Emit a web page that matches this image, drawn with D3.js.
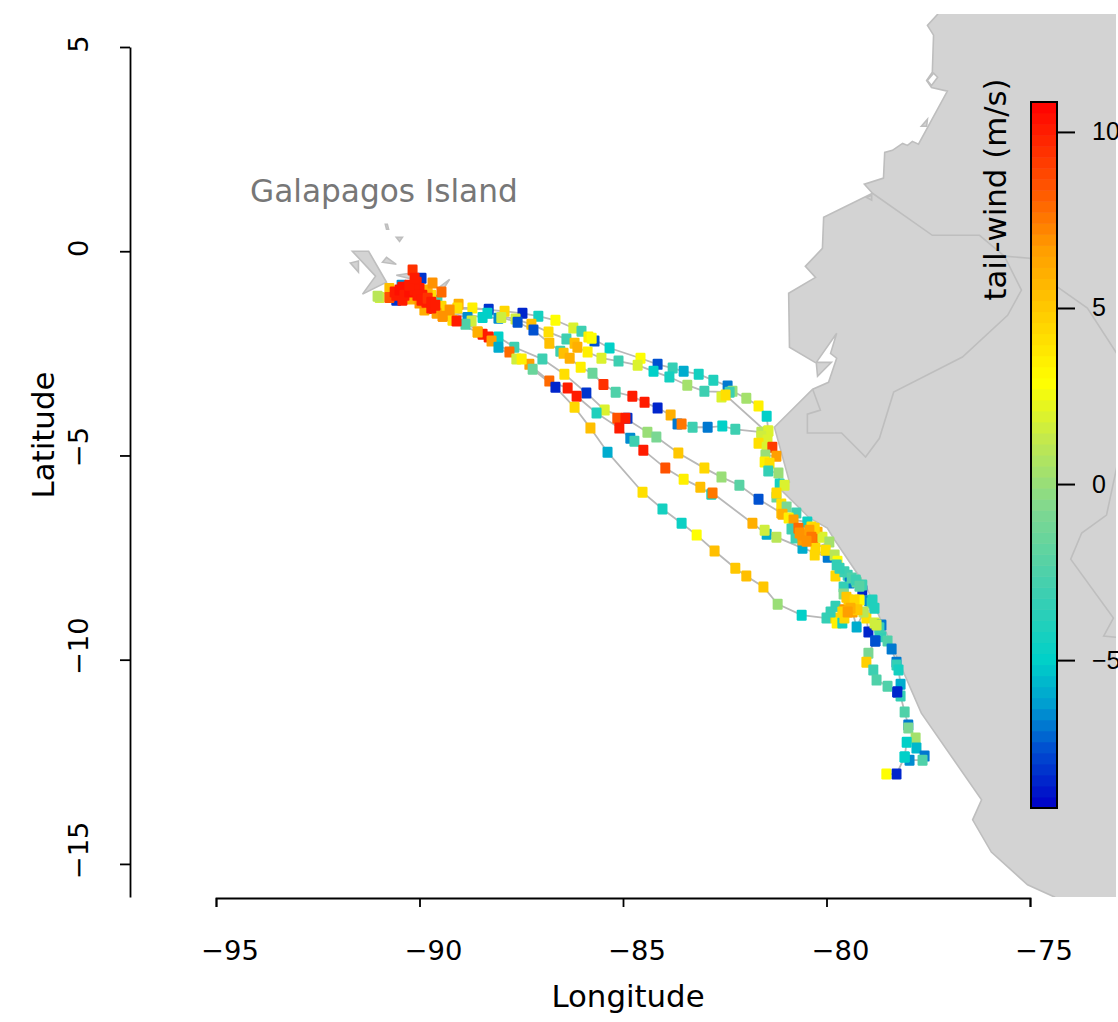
<!DOCTYPE html>
<html><head><meta charset="utf-8">
<style>html,body{margin:0;padding:0;background:#fff;overflow:hidden}svg{display:block}</style>
<script src="https://cdnjs.cloudflare.com/ajax/libs/d3/7.8.5/d3.min.js"></script>
</head><body>
<svg id="chart" width="1118" height="1022"></svg>
<script>
// [lon, lat, tail-wind m/s]
const clusterPts=[[-89.04,-1.30,6],[-89.19,-1.69,4],[-89.07,-1.39,4],[-90.44,-0.83,-6.5],[-89.95,-0.66,-8],[-90.57,-1.20,-8],[-89.56,-1.20,-3],[-90.98,-1.13,1.5],[-91.03,-1.10,1],[-89.71,-1.08,4],[-89.46,-1.35,4.5],[-90.74,-0.91,5.5],[-89.80,-0.95,6],[-90.20,-1.17,6],[-89.88,-1.44,6],[-89.58,-1.52,6.5],[-89.68,-0.78,7],[-90.00,-1.27,7],[-89.26,-1.44,7],[-89.43,-1.59,7],[-89.46,-1.00,8],[-90.74,-1.13,8.5],[-90.17,-0.46,9.5],[-90.07,-0.76,10],[-90.29,-0.88,10.5],[-90.42,-0.88,10.5],[-90.57,-1.08,10],[-90.42,-1.20,10],[-90.00,-0.91,10],[-89.93,-1.08,10],[-89.83,-1.25,10],[-89.71,-1.39,10],[-89.09,-1.71,10],[-90.61,-1.00,10],[-90.49,-0.95,10.5],[-90.37,-1.08,10],[-90.25,-1.00,10.5],[-90.12,-0.95,10],[-90.05,-1.08,10],[-89.95,-1.20,10],[-89.80,-1.15,9.5],[-89.71,-1.25,10],[-89.61,-1.32,10],[-90.25,-0.83,10],[-90.12,-0.66,10]];
const track1=[[-89.71,-1.39,10],[-88.70,-1.39,3.5],[-87.91,-1.47,4.5],[-87.47,-1.52,-8.5],[-87.08,-1.59,-4.5],[-86.66,-1.69,3],[-86.22,-1.88,2],[-86.02,-1.96,-3],[-85.70,-2.20,-7.5],[-85.85,-2.10,3.5],[-85.77,-2.13,3],[-85.33,-2.37,-5],[-84.57,-2.62,3],[-84.15,-2.77,-7.5],[-83.78,-2.86,-3.5],[-83.51,-2.94,-6],[-83.14,-3.01,-4.5],[-82.78,-3.16,-4],[-82.43,-3.30,-7],[-82.31,-3.43,0],[-81.97,-3.60,0.5],[-81.67,-3.79,3.5],[-81.47,-4.04,-5],[-81.43,-4.40,2]];
const track2=[[-89.71,-1.39,10],[-88.30,-1.42,-8],[-88.33,-1.52,-5],[-87.64,-1.66,1.5],[-87.25,-1.79,5.5],[-86.83,-1.98,4],[-86.39,-2.15,-3],[-86.19,-2.25,5.5],[-86.12,-2.35,6],[-85.87,-2.47,3.5],[-85.53,-2.62,2],[-85.11,-2.69,-3],[-84.64,-2.79,2],[-84.25,-2.94,-5],[-83.86,-3.08,-4.5],[-83.42,-3.28,0.5],[-83.00,-3.43,-3],[-82.38,-3.45,-3],[-82.58,-3.57,2],[-82.48,-3.52,4],[-81.47,-4.43,1.5]];
const track3=[[-89.71,-1.39,10],[-88.45,-1.62,-5],[-88.06,-1.64,-6.5],[-87.99,-1.62,1.5],[-87.59,-1.74,-7.5],[-87.20,-1.93,-7.5],[-86.81,-2.25,5.5],[-86.54,-2.45,-3],[-86.46,-2.50,5.5],[-86.31,-2.62,6],[-86.04,-2.84,3.5],[-85.75,-2.99,-1.5],[-85.48,-3.26,9.5],[-85.18,-3.45,-2.5],[-84.77,-3.55,10],[-84.47,-3.70,10],[-84.15,-3.84,-8.5],[-83.83,-4.01,6],[-83.66,-4.23,-7],[-83.56,-4.23,7.5],[-83.29,-4.31,-3],[-82.92,-4.31,-7],[-82.56,-4.28,-5],[-82.24,-4.36,-3],[-81.60,-4.43,1]];
const track4=[[-89.71,-1.39,10],[-88.82,-1.62,-6.5],[-88.72,-1.71,1.5],[-88.87,-1.79,-2.5],[-88.06,-2.10,-5],[-87.67,-2.35,-3],[-86.98,-2.64,-3],[-86.44,-3.01,4],[-85.90,-3.47,-8],[-85.45,-3.89,2],[-84.89,-4.09,-8],[-85.14,-4.09,8.5],[-84.94,-4.09,10],[-84.40,-4.43,0],[-84.18,-4.55,-1],[-83.64,-4.94,5],[-83.00,-5.31,4.5],[-82.58,-5.53,0],[-82.14,-5.73,-2],[-81.67,-6.07,-7.5],[-81.11,-6.41,5.5]];
const track5=[[-89.43,-1.59,7],[-88.57,-1.98,6],[-88.45,-2.03,10],[-88.30,-2.10,10],[-87.79,-2.47,8],[-87.30,-2.77,6.5],[-86.81,-3.18,8],[-86.36,-3.35,10],[-86.14,-3.55,10],[-85.65,-3.96,-4],[-85.09,-4.33,10],[-84.82,-4.58,-6.5],[-84.72,-4.65,-3],[-84.50,-4.87,10],[-83.96,-5.31,8.5],[-83.51,-5.58,3.5],[-83.10,-5.78,5.5],[-82.83,-5.95,-4.5],[-82.80,-5.92,7.5],[-81.82,-6.66,6],[-81.47,-6.93,-6],[-81.52,-6.83,1.5],[-81.23,-7.00,1],[-80.59,-7.27,-6],[-79.97,-7.49,-7]];
const track6=[[-88.57,-1.98,6],[-88.23,-2.20,6.5],[-88.06,-2.35,-6],[-87.62,-2.64,1.5],[-87.49,-2.64,3.5],[-87.22,-2.89,-1.5],[-86.66,-3.33,-8.5],[-86.19,-3.82,4.5],[-85.80,-4.33,5.5],[-85.38,-4.92,-6],[-84.52,-5.90,4],[-84.03,-6.31,-4.5],[-83.56,-6.66,-4.8],[-83.19,-6.95,3],[-82.75,-7.34,5.5],[-82.24,-7.76,5],[-81.97,-7.95,5.5],[-81.55,-8.22,5],[-81.20,-8.64,0],[-80.61,-8.91,-5],[-80.00,-8.98,-3.5],[-79.78,-8.98,4.5],[-79.75,-9.10,3.5],[-79.61,-9.10,-4.5]];
const coastA=[[-81.43,-4.40,2],[-81.60,-4.53,1.5],[-81.45,-4.62,2],[-81.67,-4.70,4],[-81.47,-4.80,2],[-81.33,-4.80,9],[-81.50,-4.99,0],[-81.23,-5.02,6.5],[-81.52,-5.16,3.5],[-81.40,-5.19,4],[-81.43,-5.38,-3.5],[-81.18,-5.43,0],[-81.15,-5.70,-4.5],[-81.03,-5.73,2],[-81.23,-6.02,-1.5],[-81.23,-5.92,4.5],[-81.11,-6.19,4],[-80.98,-6.26,-1],[-81.08,-6.44,6],[-80.74,-6.41,-3],[-80.93,-6.53,3.5],[-80.81,-6.58,6.5],[-80.47,-6.63,-4.8],[-80.86,-6.80,-3],[-80.76,-7.02,-3],[-80.69,-6.78,8],[-80.37,-6.75,4],[-80.22,-6.88,6],[-80.49,-6.95,7],[-80.59,-7.07,6.5],[-80.32,-7.02,8],[-80.10,-7.00,2],[-79.93,-7.12,0.5],[-80.27,-7.27,4.5],[-80.29,-7.44,4.5],[-80.02,-7.32,4],[-79.80,-7.44,1],[-79.73,-7.59,3],[-79.75,-7.68,-3.5],[-79.78,-7.95,4.5],[-79.56,-7.85,-3],[-79.48,-7.93,-3],[-79.43,-8.12,-7],[-79.12,-8.30,-8.5],[-79.26,-8.10,-1.5],[-79.12,-8.17,-3]];
const coastB=[[-79.58,-8.22,-3.5],[-79.58,-8.39,-0.5],[-79.51,-8.47,5],[-79.43,-8.61,5],[-79.26,-8.66,5],[-79.78,-8.69,-3.5],[-79.90,-8.83,-3.5],[-79.56,-8.78,7],[-79.36,-8.83,6.5],[-79.26,-9.20,-6],[-78.95,-8.56,-6.5],[-78.89,-8.61,-3.5],[-79.02,-8.98,4],[-78.97,-9.32,-8.5],[-78.82,-9.10,1.5],[-78.70,-9.32,-3.5],[-78.65,-9.44,-3.5],[-78.80,-9.54,-7.5],[-78.50,-9.54,-2.5],[-78.40,-9.74,-7],[-78.28,-10.06,-7],[-78.28,-10.13,-3.5],[-78.23,-10.25,-4.5],[-78.18,-10.60,-6],[-78.26,-10.79,-8.5],[-78.18,-10.89,-3.5],[-78.08,-11.28,-2.5],[-77.99,-11.60,-7],[-77.99,-11.67,-1],[-77.81,-11.92,0.5],[-77.79,-12.16,-5.5],[-77.59,-12.36,-7],[-77.64,-12.46,-2.5],[-77.96,-12.46,-6.5],[-78.08,-12.38,-5],[-78.03,-12.02,-5],[-78.08,-12.38,-5],[-78.28,-12.80,-8.5],[-78.53,-12.80,3]];
const branchC=[[-78.80,-9.54,-7.5],[-78.97,-9.84,-1],[-79.02,-10.06,4.8],[-78.85,-10.25,-3],[-78.77,-10.50,-2.5],[-78.50,-10.65,-2.5],[-78.26,-10.79,-8.5]];
const tealBlobPts=[[-79.68,-7.76,-3.5],[-79.38,-8.00,-2.5],[-79.28,-8.05,-3],[-79.19,-8.20,-2],[-78.87,-8.54,-4],[-78.82,-8.74,-4],[-78.65,-9.15,-7],[-78.70,-9.22,-3]];
const orangeBlobPts=[[-80.29,-6.78,4.5],[-80.66,-6.90,7],[-80.59,-6.95,7],[-80.42,-6.83,6.5],[-80.37,-7.00,7.5],[-80.49,-7.10,7],[-79.19,-8.54,3],[-79.09,-8.83,1],[-78.77,-9.15,1.5],[-79.56,-8.98,4.5],[-79.61,-8.83,4.5],[-79.46,-8.54,5],[-79.31,-8.54,4.5],[-79.24,-8.78,5],[-79.41,-8.74,6],[-79.48,-8.83,6.5]];
const tracks=[track1,track2,track3,track4,track5,track6,coastA,coastB,branchC];

const mainland=[[-77.27,5.80],[-77.52,5.53],[-77.37,5.29],[-77.40,4.38],[-77.54,4.18],[-77.42,4.01],[-77.03,3.92],[-77.74,2.62],[-77.89,2.69],[-78.01,2.59],[-78.13,2.64],[-78.38,2.47],[-78.57,2.42],[-78.60,1.79],[-79.07,1.64],[-78.87,1.42],[-80.07,0.83],[-80.10,0.07],[-80.52,-0.37],[-80.27,-0.64],[-80.93,-1.03],[-80.91,-2.35],[-80.25,-2.74],[-80.22,-3.06],[-79.88,-2.72],[-80.25,-2.72],[-79.75,-2.01],[-79.90,-2.50],[-79.75,-2.62],[-79.95,-3.21],[-80.34,-3.38],[-81.28,-4.31],[-80.91,-5.65],[-81.11,-5.85],[-80.42,-6.53],[-79.98,-6.78],[-79.80,-7.07],[-79.02,-8.22],[-77.67,-11.31],[-76.19,-13.43],[-76.41,-13.92],[-75.95,-14.71],[-75.06,-15.51],[-74.40,-15.81],[-73.80,-16.25],[-70,-17],[-70,7],[-77,7]];
const lagoon=[[-77.37,4.36],[-77.27,4.26],[-77.42,4.06],[-77.52,4.18]];
const islets=[
 [[-91.65,0],[-91.25,0],[-90.81,-0.76],[-91.40,-1.05],[-91.08,-0.61]],
 [[-91.70,-0.29],[-91.50,-0.24],[-91.50,-0.51]],
 [[-90.91,-0.27],[-90.81,-0.15],[-90.57,-0.32]],
 [[-90.57,-0.59],[-90.25,-0.54],[-90.07,-0.71]],
 [[-89.51,-0.88],[-89.26,-0.69],[-89.43,-0.95]],
 [[-90.84,0.66],[-90.79,0.66],[-90.76,0.54],[-90.81,0.54]],
 [[-90.57,0.34],[-90.42,0.34],[-90.49,0.24]],
 [[-77.67,3.06],[-77.52,3.23],[-77.54,3.06]],
 [[-79.02,1.32],[-78.89,1.37],[-78.89,1.25]]
];
const borders=[
 [[-78.87,1.42],[-77.40,0.39],[-76.24,0.39],[-75.63,-0.12],[-75.01,-0.17],[-74.32,-0.88],[-73.59,-1.39],[-72.87,-2.50]],
 [[-75.63,-0.12],[-75.21,-0.95],[-75.55,-1.57],[-76.66,-2.59],[-78.35,-3.45],[-78.70,-4.58],[-79.04,-5.04],[-79.63,-4.45],[-80.47,-4.45],[-80.47,-3.99],[-80.15,-3.89],[-80.34,-3.38]],
 [[-72.87,-5.29],[-73.12,-6.46],[-73.73,-6.90],[-74.00,-7.54],[-72.95,-8.98],[-73.19,-9.42],[-72.70,-9.47]]
];
const windStops=[-9.2,-7.5,-6.2,-5,-3,-0.7,1.2,2.9,4.7,6.6,8.1,10.85];
const windColors=["#0000c8","#0050d0","#00a0d0","#00d0c8","#40cfb0","#80d890","#c0e850","#ffff00","#ffd000","#ffa000","#ff6000","#ff0000"];
const lonTicks=[-95,-90,-85,-80,-75];
const latTicks=[5,0,-5,-10,-15];
const windTicks=[10,5,0,-5];
const FONT="'DejaVu Sans',sans-serif";

const svg=d3.select("#chart");
const x=d3.scaleLinear().domain([-95,-75]).range([216,1030]);
const y=d3.scaleLinear().domain([5,-15.81]).range([47,897]);
const windY=d3.scaleLinear().domain([-9.2,10.85]).range([808,102]);
const ramp=d3.scaleLinear().domain(windStops).range(windColors).interpolate(d3.interpolateRgb);
const nSteps=64;
const stepVals=d3.range(nSteps).map(i=>-9.2+(i+0.5)*(10.85+9.2)/nSteps);
const wind=d3.scaleQuantize().domain([-9.2,10.85]).range(stepVals.map(v=>ramp(v)));
const defs=svg.append("defs");
defs.append("clipPath").attr("id","plot").append("rect").attr("x",0).attr("y",14).attr("width",1116).attr("height",883);
const geo=d3.line().x(d=>x(d[0])).y(d=>y(d[1]));
const gLand=svg.append("g").attr("clip-path","url(#plot)");
gLand.selectAll("path.land").data([mainland,...islets]).join("path").attr("class","land")
 .attr("d",d=>geo(d)+"Z").attr("fill","#d3d3d3").attr("stroke","#bebebe").attr("stroke-width",1.6).attr("stroke-linejoin","miter");
gLand.append("path").attr("d",geo(lagoon)+"Z").attr("fill","#fff").attr("stroke","#bebebe").attr("stroke-width",1.6);
gLand.selectAll("path.border").data(borders).join("path").attr("class","border")
 .attr("d",geo).attr("fill","none").attr("stroke","#bebebe").attr("stroke-width",1.6);
const gT=svg.append("g");
gT.selectAll("path").data(tracks).join("path").attr("d",geo).attr("fill","none").attr("stroke","#b8b8b8").attr("stroke-width",1.8);
const gP=svg.append("g");
tracks.concat([tealBlobPts,clusterPts,orangeBlobPts]).forEach(t=>{
 gP.selectAll(null).data(t).join("rect")
  .attr("x",d=>x(d[0])-5).attr("y",d=>y(d[1])-5.5).attr("width",10).attr("height",11).attr("rx",1.2)
  .attr("fill",d=>wind(d[2]));
});
// axes
function style(g){g.selectAll("path,line").attr("stroke","#000").attr("stroke-width",1.8);g.selectAll("text").attr("font-family",FONT).attr("font-size",27.4).attr("fill","#000");}
const xa=svg.append("g").attr("transform","translate(0,898)").call(d3.axisBottom(x).tickValues(lonTicks).tickSize(9).tickSizeOuter(9).tickPadding(34));
style(xa);
xa.selectAll(".tick text").attr("dx",13.5);
const ya=svg.append("g").attr("transform","translate(130,0)").call(d3.axisLeft(y).tickValues(latTicks).tickSize(10).tickSizeOuter(0));
style(ya);
ya.selectAll(".tick text").attr("x",null).attr("dy",null).attr("text-anchor","middle").attr("dominant-baseline","central")
  .attr("transform",d=>`translate(-52,${d>=0?-3.5:(d>-10?-9:-14)}) rotate(-90)`);
svg.append("text").attr("x",628).attr("y",1007).attr("text-anchor","middle").attr("font-family",FONT).attr("font-size",30.8).text("Longitude");
svg.append("text").attr("transform","translate(54,435) rotate(-90)").attr("text-anchor","middle").attr("font-family",FONT).attr("font-size",30.8).text("Latitude");
svg.append("text").attr("x",250).attr("y",y(1.2)).attr("font-family",FONT).attr("font-size",31.2).attr("fill","#777").text("Galapagos Island");
// legend
const gL=svg.append("g");
const stepH=(808-102)/nSteps;
gL.selectAll("rect").data(stepVals).join("rect").attr("x",1031).attr("width",26)
 .attr("y",d=>windY(d)-stepH/2).attr("height",stepH+0.5).attr("fill",d=>wind(d));
gL.append("rect").attr("x",1031).attr("y",102).attr("width",26).attr("height",706).attr("fill","none").attr("stroke","#000").attr("stroke-width",2);
const la=svg.append("g").attr("transform","translate(1057,0)").call(d3.axisRight(windY).tickValues(windTicks).tickSize(18).tickSizeOuter(0).tickPadding(17));
la.select(".domain").remove();
la.selectAll("line").attr("stroke","#000").attr("stroke-width",2);
la.selectAll("text").attr("font-family","'Liberation Sans',sans-serif").attr("font-size",25);
svg.append("text").attr("transform","translate(1006,189.5) rotate(-90)").attr("text-anchor","middle").attr("font-family",FONT).attr("font-size",30.8).text("tail-wind (m/s)");
</script>
</body></html>
